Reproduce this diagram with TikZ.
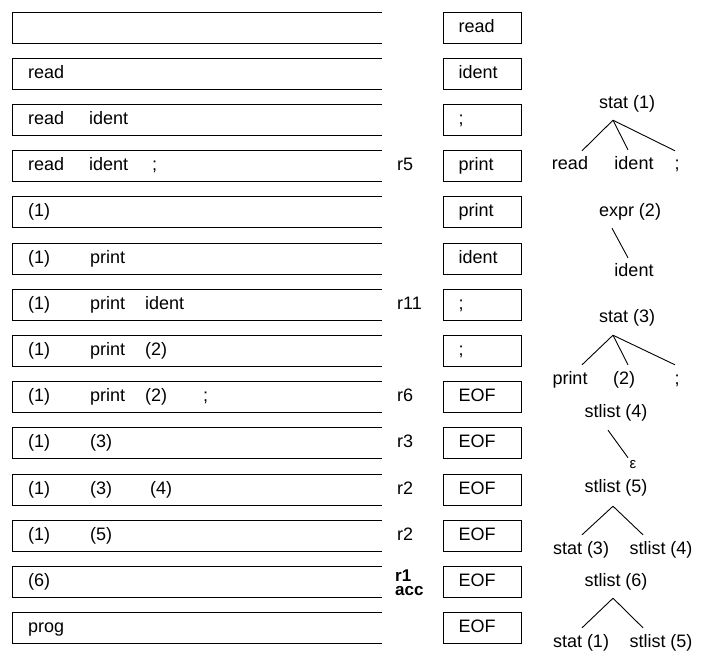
\documentclass[tikz,border=0pt]{standalone}
\usepackage{fontspec}
\setmainfont{Liberation Sans}
\usetikzlibrary{calc}
\tikzset{
  txt/.style={font=\fontsize{18}{21}\selectfont, inner sep=0pt, text height=13pt, text depth=4pt},
  stk/.style={txt, anchor=west},
  inbox/.style={txt, draw, line width=0.9pt, inner xsep=15.5pt, text width=47pt, align=left, minimum width=78pt, minimum height=31pt},
  rlab/.style={txt, anchor=west},
  edge/.style={line width=0.9pt},
  stackline/.style={line width=0.9pt}
}
\begin{document}
\begin{tikzpicture}[x=1pt,y=-1pt]
\useasboundingbox (0,0) rectangle (714,659);
% stack boxes (open on the right)
\foreach \i in {0,...,13}{
  \pgfmathsetmacro{\t}{12+46.2*\i}
  \pgfmathsetmacro{\b}{\t+31}
  \draw[stackline] (382,\t) -- (12,\t) -- (12,\b) -- (382,\b);
}
% stack contents
\node[stk] (k1a) at (28,{27.5+46.2*1}) {read};
\node[stk] (k2a) at (28,{27.5+46.2*2}) {read};
\node[stk] (k2b) at (89,{27.5+46.2*2}) {ident};
\node[stk] (k3a) at (28,{27.5+46.2*3}) {read};
\node[stk] (k3b) at (89,{27.5+46.2*3}) {ident};
\node[stk] (k3c) at (152,{27.5+46.2*3}) {;};
\node[stk] (k4a) at (28,{27.5+46.2*4}) {(1)};
\node[stk] (k5a) at (28,{27.5+46.2*5}) {(1)};
\node[stk] (k5b) at (90,{27.5+46.2*5}) {print};
\node[stk] (k6a) at (28,{27.5+46.2*6}) {(1)};
\node[stk] (k6b) at (90,{27.5+46.2*6}) {print};
\node[stk] (k6c) at (145,{27.5+46.2*6}) {ident};
\node[stk] (k7a) at (28,{27.5+46.2*7}) {(1)};
\node[stk] (k7b) at (90,{27.5+46.2*7}) {print};
\node[stk] (k7c) at (145,{27.5+46.2*7}) {(2)};
\node[stk] (k8a) at (28,{27.5+46.2*8}) {(1)};
\node[stk] (k8b) at (90,{27.5+46.2*8}) {print};
\node[stk] (k8c) at (145,{27.5+46.2*8}) {(2)};
\node[stk] (k8d) at (203,{27.5+46.2*8}) {;};
\node[stk] (k9a) at (28,{27.5+46.2*9}) {(1)};
\node[stk] (k9b) at (90,{27.5+46.2*9}) {(3)};
\node[stk] (k10a) at (28,{27.5+46.2*10}) {(1)};
\node[stk] (k10b) at (90,{27.5+46.2*10}) {(3)};
\node[stk] (k10c) at (150,{27.5+46.2*10}) {(4)};
\node[stk] (k11a) at (28,{27.5+46.2*11}) {(1)};
\node[stk] (k11b) at (90,{27.5+46.2*11}) {(5)};
\node[stk] (k12a) at (28,{27.5+46.2*12}) {(6)};
\node[stk] (k13a) at (28,{27.5+46.2*13}) {prog};
% input boxes
\foreach \i/\w in {0/read,1/ident,2/;,3/print,4/print,5/ident,6/;,7/;,8/EOF,9/EOF,10/EOF,11/EOF,12/EOF,13/EOF}{
  \node[inbox] (in\i) at (482,{27.5+46.2*\i}) {\w};
}
% rule labels
\node[rlab] (r3) at (397,{27.5+46.2*3}) {r5};
\node[rlab] (r6) at (397,{27.5+46.2*6}) {r11};
\node[rlab] (r8) at (397,{27.5+46.2*8}) {r6};
\node[rlab] (r9) at (397,{27.5+46.2*9}) {r3};
\node[rlab] (r10) at (397,{27.5+46.2*10}) {r2};
\node[rlab] (r11) at (397,{27.5+46.2*11}) {r2};
\node[anchor=west, inner sep=0pt, align=left, font=\fontsize{17}{13.5}\selectfont\bfseries] (r12) at (395,582.5) {r1\\acc};
% tree 1
\node[txt] (s1) at (627,104) {stat (1)};
\node[txt] (s1r) at (570,165) {read};
\node[txt] (s1i) at (634,165) {ident};
\node[txt] (s1s) at (677,165) {;};
\coordinate (s1x) at ($(s1.south)+(-14,7.5)$);
\draw[edge] (s1x) -- ($(s1r.north)+(12,-5.5)$);
\draw[edge] (s1x) -- ($(s1i.north)+(-6,-6.5)$);
\draw[edge] (s1x) -- ($(s1s.north)+(-2,-5.5)$);
% tree 2
\node[txt] (e2) at (630,212) {expr (2)};
\node[txt] (e2i) at (634,272) {ident};
\draw[edge] ($(e2.south)+(-18,7.5)$) -- ($(e2i.north)+(-6,-5.5)$);
% tree 3
\node[txt] (s3) at (627,318) {stat (3)};
\node[txt] (s3p) at (570,380) {print};
\node[txt] (s3e) at (624,380) {(2)};
\node[txt] (s3s) at (677,380) {;};
\coordinate (s3x) at ($(s3.south)+(-14,8.5)$);
\draw[edge] (s3x) -- ($(s3p.north)+(12,-6.5)$);
\draw[edge] (s3x) -- ($(s3e.north)+(4,-6.5)$);
\draw[edge] (s3x) -- ($(s3s.north)+(-2,-6.5)$);
% tree 4
\node[txt] (l4) at (616,413) {stlist (4)};
\node[inner sep=0pt, font=\fontsize{15}{18}\selectfont] (eps) at (633,465) {ε};
\draw[edge] ($(l4.south)+(-8,8.5)$) -- ($(eps.north)+(-5,-3)$);
% tree 5
\node[txt] (l5) at (616,488) {stlist (5)};
\node[txt] (l5a) at (581,550) {stat (3)};
\node[txt] (l5b) at (661,550) {stlist (4)};
\coordinate (l5x) at ($(l5.south)+(-3,9.5)$);
\draw[edge] (l5x) -- ($(l5a.north)+(1,-6.5)$);
\draw[edge] (l5x) -- ($(l5b.north)+(-18,-6.5)$);
% tree 6
\node[txt] (l6) at (616,582) {stlist (6)};
\node[txt] (l6a) at (581,643) {stat (1)};
\node[txt] (l6b) at (661,643) {stlist (5)};
\coordinate (l6x) at ($(l6.south)+(-3,7.5)$);
\draw[edge] (l6x) -- ($(l6a.north)+(1,-6.5)$);
\draw[edge] (l6x) -- ($(l6b.north)+(-18,-6.5)$);
\end{tikzpicture}
\end{document}
